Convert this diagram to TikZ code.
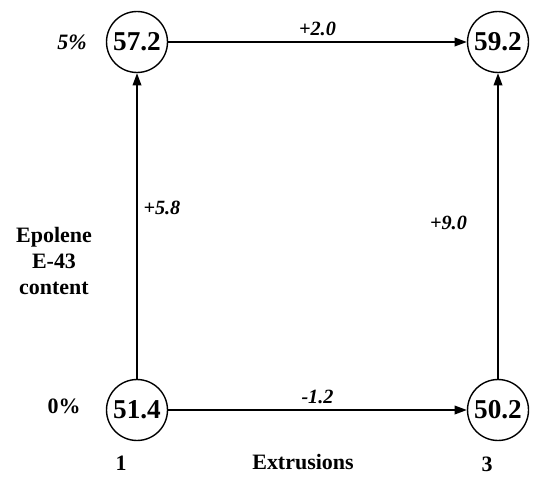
\documentclass[tikz,border=0pt]{standalone}
\usepackage{fontspec}
\setmainfont{Liberation Serif}
\usetikzlibrary{arrows.meta,positioning}

\begin{document}
\begin{tikzpicture}[x=0.02cm, y=-0.02cm, >={Triangle[length=7pt,width=5pt]}, line width=0.8pt,
  state/.style={draw, circle, minimum size=1.22cm, inner sep=0pt, font=\fontsize{15.5}{17}\selectfont\bfseries},
  delta/.style={font=\fontsize{11.5}{13}\selectfont\bfseries\itshape},
  axis/.style={font=\fontsize{12.5}{15}\selectfont\bfseries, align=center}]
\useasboundingbox (0,0) rectangle (533,476);

% States
\node[state] (s1) at (137,42) {57.2};
\node[state] (s2) at (498,42) {59.2};
\node[state] (s3) at (137,410) {51.4};
\node[state] (s4) at (498,410) {50.2};

% Level labels
\node[axis, font=\fontsize{12.5}{15}\selectfont\bfseries\itshape] (hi) at (72,42) {5\%};
\node[axis] (lo) at (64,406) {0\%};
\node[axis] (content) at (54,261) {Epolene\\E-43\\content};

% Extrusion labels
\node[axis] (e1) at (121,463) {1};
\node[axis] (ext) at (303,462) {Extrusions};
\node[axis] (e3) at (487,464) {3};

% Changes
\draw[->] (s1) -- node[delta, above] {+2.0} (s2);
\draw[->] (s3) -- node[delta, above] {-1.2} (s4);
\draw[->] (s3) -- node[delta, right, pos=0.56] {+5.8} (s1);
\draw[->] (s4) -- node[delta, left=14pt, pos=0.51] {+9.0} (s2);

\end{tikzpicture}
\end{document}
